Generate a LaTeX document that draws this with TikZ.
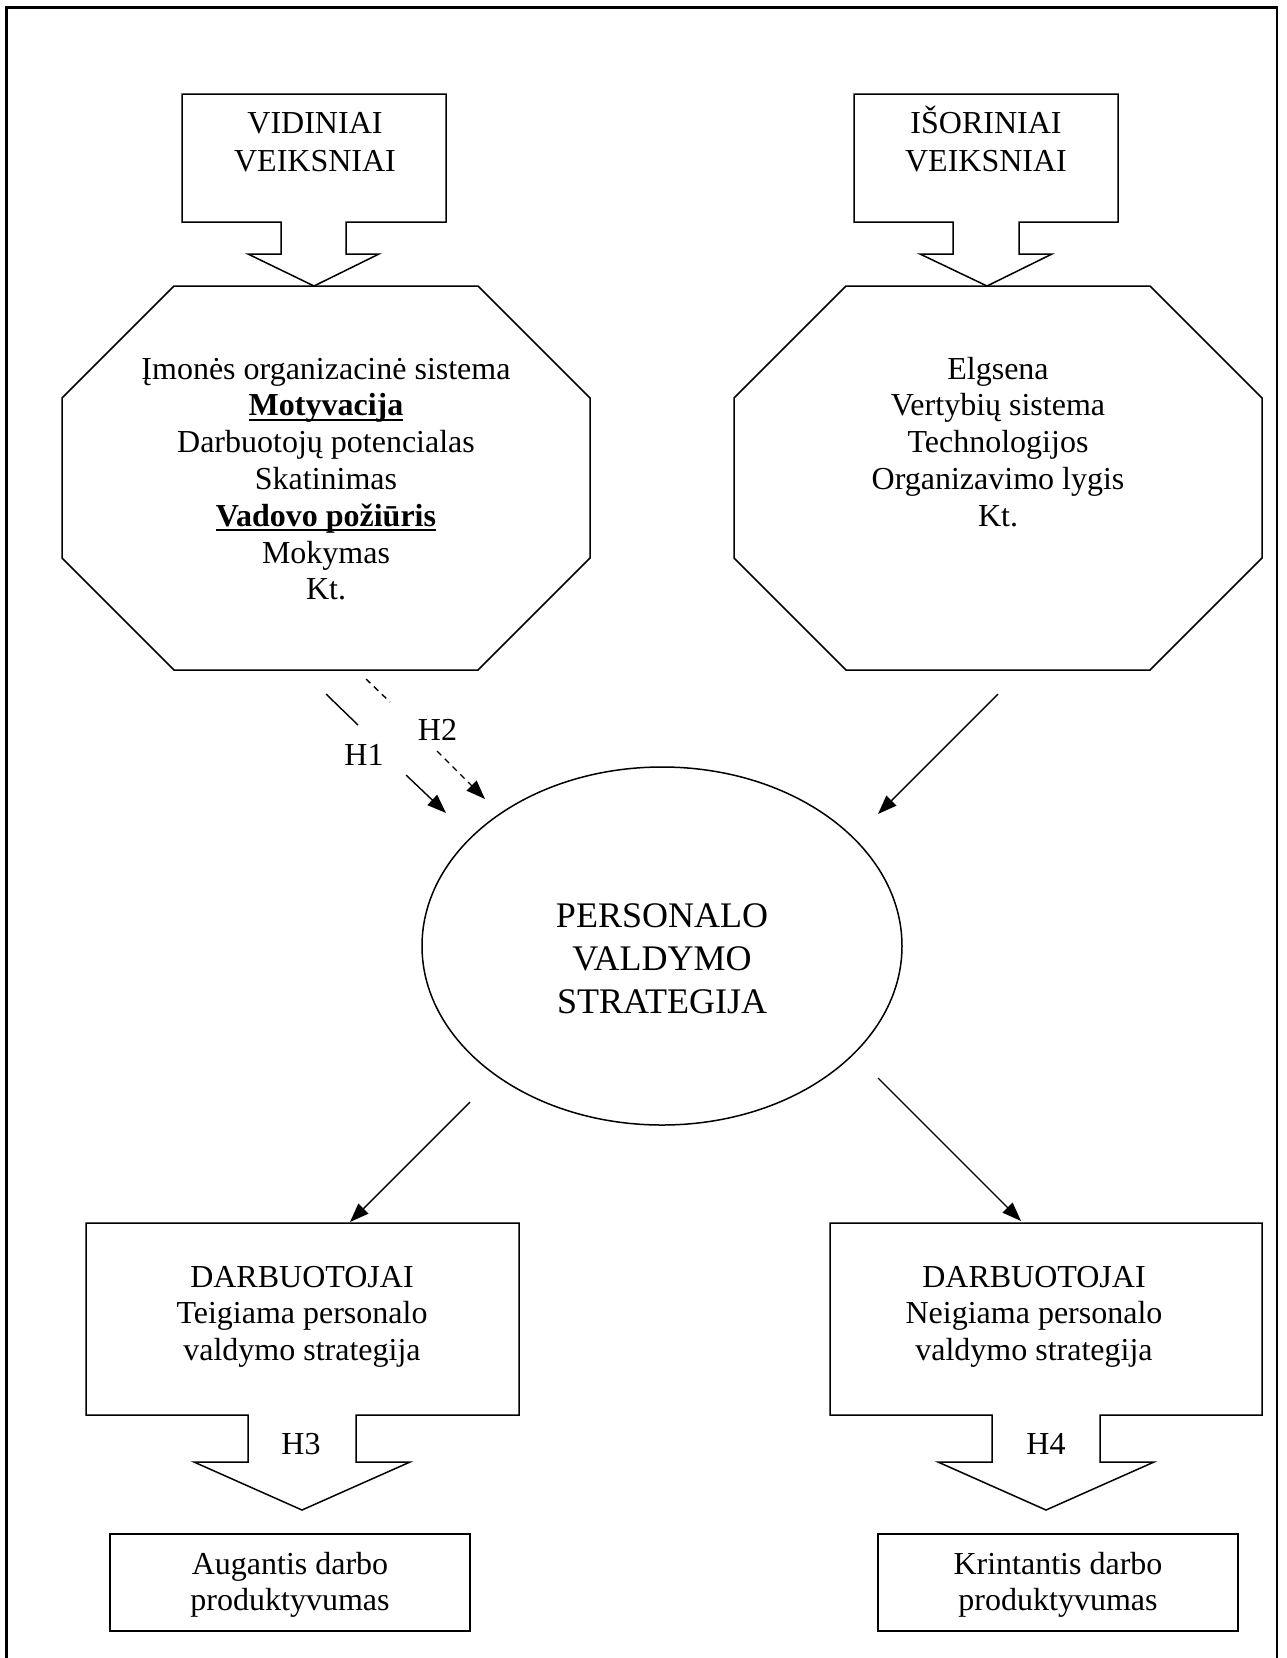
\documentclass[tikz,border=0pt]{standalone}
\usepackage{fontspec}
\setmainfont{Liberation Serif}
\usetikzlibrary{arrows.meta,shapes.geometric}
\newcommand{\myul}[1]{\setbox0\hbox{#1}\rlap{\rule[-5pt]{\wd0}{2pt}}\box0}
\tikzset{
  shapeline/.style={line width=1.5pt, line join=miter},
  txt/.style={inner sep=0pt, anchor=base, font=\fontsize{32}{36.8}\selectfont},
  conn/.style={line width=1.4pt, -{Triangle[length=19pt,width=14pt]}},
  plainline/.style={line width=1.4pt},
  dashline/.style={line width=1.4pt, dash pattern=on 6pt off 5pt},
}
\begin{document}
\begin{tikzpicture}[x=1pt,y=-1pt]
\useasboundingbox (0,0) rectangle (1287,1658);
% frame
\draw[line width=2.5pt] (6.5,1660) -- (6.5,7.5) -- (1277,7.5) -- (1277,1660);

% top callouts
\draw[shapeline] (182,94) -- (446,94) -- (446,222) -- (346,222) -- (346,254) -- (379,254) -- (314,286) -- (248,254) -- (281,254) -- (281,222) -- (182,222) -- cycle;
\draw[shapeline] (854,94) -- (1118,94) -- (1118,222) -- (1019,222) -- (1019,254) -- (1052,254) -- (987,286) -- (920,254) -- (953,254) -- (953,222) -- (854,222) -- cycle;
\node[txt, font=\fontsize{32}{38}\selectfont] (vid) at (315,133) {\begin{tabular}[t]{@{}c@{}}VIDINIAI\\VEIKSNIAI\end{tabular}};
\node[txt, font=\fontsize{32}{38}\selectfont] (isor) at (986,133) {\begin{tabular}[t]{@{}c@{}}IŠORINIAI\\VEIKSNIAI\end{tabular}};

% octagons
\draw[shapeline] (174,286) -- (478,286) -- (590,398) -- (590,558) -- (478,670) -- (174,670) -- (62,558) -- (62,398) -- cycle;
\draw[shapeline] (846,286) -- (1150,286) -- (1262,398) -- (1262,558) -- (1150,670) -- (846,670) -- (734,558) -- (734,398) -- cycle;
\node[txt] (vidlist) at (326,379) {\begin{tabular}[t]{@{}c@{}}Įmonės organizacinė sistema\\ \myul{\textbf{Motyvacija}}\\ Darbuotojų potencialas\\ Skatinimas\\ \myul{\textbf{Vadovo požiūris}}\\ Mokymas\\ Kt.\end{tabular}};
\node[txt] (isorlist) at (998,379) {\begin{tabular}[t]{@{}c@{}}Elgsena\\ Vertybių sistema\\ Technologijos\\ Organizavimo lygis\\ Kt.\end{tabular}};

% ellipse
\node[draw, ellipse, line width=1.5pt, minimum width=480pt, minimum height=358pt, inner sep=0pt] (strat) at (662,946) {};
\node[txt, font=\fontsize{36}{43}\selectfont] (strattxt) at (662,927) {\begin{tabular}[t]{@{}c@{}}PERSONALO\\ VALDYMO\\ STRATEGIJA\end{tabular}};

% connectors into the ellipse
\coordinate (h1a) at (326,694); \coordinate (h1b) at (358,725);
\coordinate (h1c) at (406,775); \coordinate (h1d) at (446,813);
\coordinate (h2a) at (366,679); \coordinate (h2b) at (390,702);
\coordinate (h2c) at (437,751); \coordinate (h2d) at (485,799);
\coordinate (r1) at (998,694); \coordinate (r2) at (878,814);
\draw[plainline] (h1a) -- (h1b);
\draw[conn] (h1c) -- (h1d);
\draw[dashline] (h2a) -- (h2b);
\draw[dashline, -{Triangle[length=19pt,width=14pt]}] (h2c) -- (h2d);
\draw[conn] (r1) -- (r2);
\node[txt] (h1) at (364,765) {H1};
\node[txt] (h2) at (437.5,740.5) {H2};

% connectors out of the ellipse
\coordinate (b1) at (470,1102); \coordinate (b2) at (350,1222);
\coordinate (b3) at (878,1078); \coordinate (b4) at (1021,1221);
\draw[conn] (b1) -- (b2);
\draw[conn] (b3) -- (b4);

% bottom callouts
\draw[shapeline] (86,1223) -- (519,1223) -- (519,1415) -- (356,1415) -- (356,1462) -- (410,1462) -- (302,1510) -- (194,1462) -- (248,1462) -- (248,1415) -- (86,1415) -- cycle;
\draw[shapeline] (830,1223) -- (1262,1223) -- (1262,1415) -- (1100,1415) -- (1100,1462) -- (1154,1462) -- (1046,1510) -- (938,1462) -- (992,1462) -- (992,1415) -- (830,1415) -- cycle;
\node[txt] (darb1) at (302,1287) {\begin{tabular}[t]{@{}c@{}}DARBUOTOJAI\\ Teigiama personalo\\ valdymo strategija\end{tabular}};
\node[txt] (darb2) at (1034,1287) {\begin{tabular}[t]{@{}c@{}}DARBUOTOJAI\\ Neigiama personalo\\ valdymo strategija\end{tabular}};
\node[txt] (h3) at (301,1454) {H3};
\node[txt] (h4) at (1046,1454) {H4};

% result boxes
\node[draw, shapeline, minimum width=360pt, minimum height=97pt, inner sep=0pt] (aug) at (290,1582.5) {};
\node[draw, shapeline, minimum width=360pt, minimum height=97pt, inner sep=0pt] (krint) at (1058,1582.5) {};
\node[txt] (augtxt) at (290,1574) {\begin{tabular}[t]{@{}c@{}}Augantis darbo\\ produktyvumas\end{tabular}};
\node[txt] (krinttxt) at (1058,1574) {\begin{tabular}[t]{@{}c@{}}Krintantis darbo\\ produktyvumas\end{tabular}};
\end{tikzpicture}
\end{document}
